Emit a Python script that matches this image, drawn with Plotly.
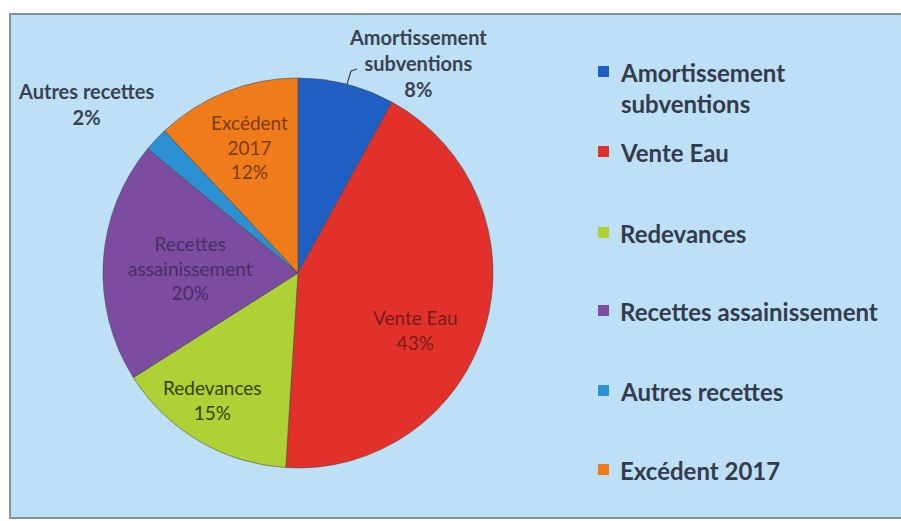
import plotly.graph_objects as go

labels = ["Amortissement subventions", "Vente Eau", "Redevances",
          "Recettes assainissement", "Autres recettes", "Excédent 2017"]
values = [8, 43, 15, 20, 2, 12]
colors = ["#1f5fc4", "#e2312b", "#aed136", "#7b4c9f", "#2b91d3", "#f07b1b"]
legend_labels = ["Amortissement<br>subventions", "Vente Eau", "Redevances",
                 "Recettes assainissement", "Autres recettes", "Excédent 2017"]
slice_labels = ["Amortissement<br>subventions", "Vente Eau", "Redevances",
                "Recettes<br>assainissement", "Autres recettes", "Excédent<br>2017"]
label_colors = ["#3a4252", "#7a1c18", "#34420f", "#4a2e66", "#3a4252", "#7c3c10"]
label_bold = [True, False, False, False, True, False]
label_size = [20, 19, 19, 19, 20, 19]
# label centre positions in pixels (x, y of block centre)
label_pos = [(418, 63), (415, 330), (212, 400), (190, 268), (86, 104), (249, 147)]

W, H = 901, 521
fig = go.Figure()
fig.add_trace(go.Pie(
    labels=labels, values=values, sort=False, direction="clockwise", rotation=0,
    marker=dict(colors=colors, line=dict(color="rgba(70,70,70,0.55)", width=1)),
    textinfo="none", hoverinfo="label+percent", showlegend=False,
    domain=dict(x=[103 / W, 493 / W], y=[(H - 468) / H, (H - 78) / H]),
))

shapes = [dict(type="rect", xref="paper", yref="paper",
               x0=10 / W, x1=1.1, y0=(H - 518) / H, y1=(H - 14) / H,
               fillcolor="#bde0f6", line=dict(color="#8a9098", width=2), layer="below")]
annotations = []
total = sum(values)
for i, lab in enumerate(slice_labels):
    pct = round(values[i] * 100 / total)
    txt = f"{lab}<br>{pct}%"
    if label_bold[i]:
        txt = f"<b>{txt}</b>"
    x, y = label_pos[i]
    annotations.append(dict(x=x / W, y=(H - y) / H, xref="paper", yref="paper",
                            text=txt, showarrow=False, align="center",
                            xanchor="center", yanchor="middle",
                            font=dict(family="Lato", size=label_size[i], color=label_colors[i])))
# leader line for Amortissement
shapes.append(dict(type="path", xref="paper", yref="paper",
                   path=f"M {347/W},{(H-84)/H} L {351/W},{(H-71)/H} L {357/W},{(H-69)/H}",
                   line=dict(color="#3a4252", width=1.2)))

# legend
leg_y = [72, 152, 233, 311, 391, 470]
for i, lab in enumerate(legend_labels):
    y = leg_y[i]
    shapes.append(dict(type="rect", xref="paper", yref="paper",
                       x0=598 / W, x1=609 / W, y0=(H - y - 5) / H, y1=(H - y + 6) / H,
                       fillcolor=colors[i], line=dict(width=0)))
    annotations.append(dict(x=618 / W, y=(H - y + 16) / H, xref="paper", yref="paper",
                            text=f"<b>{lab}</b>", showarrow=False, align="left",
                            xanchor="left", yanchor="top",
                            font=dict(family="Lato", size=24, color="#343b4c")))

fig.update_layout(width=W, height=H, margin=dict(l=0, r=0, t=0, b=0),
                  paper_bgcolor="white", plot_bgcolor="white",
                  shapes=shapes, annotations=annotations, showlegend=False)
fig.write_html("out.html", config={"displayModeBar": False},
               post_script="document.body.style.margin='0';document.body.style.overflow='hidden';")
